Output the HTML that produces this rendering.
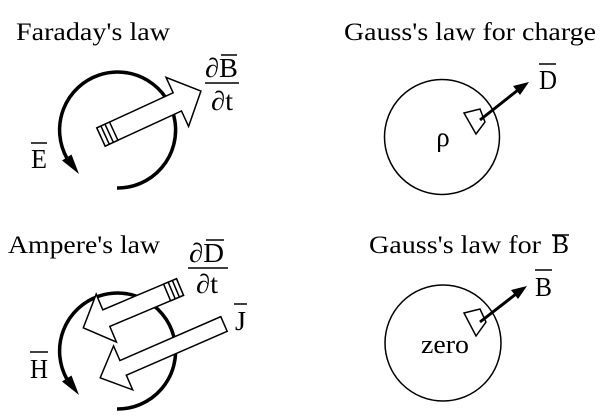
<!DOCTYPE html>
<html><head><style>
html,body{margin:0;padding:0;background:#fff;}
svg{display:block;}
text{font-family:"Liberation Serif","Times New Roman",serif;fill:#000;}
</style></head><body>
<svg width="606" height="416" viewBox="0 0 606 416" xmlns="http://www.w3.org/2000/svg">
<!-- Titles -->
<text x="16" y="40" font-size="25" textLength="154" lengthAdjust="spacingAndGlyphs">Faraday's law</text>
<text x="344" y="40" font-size="25" textLength="252" lengthAdjust="spacingAndGlyphs">Gauss's law for charge</text>
<text x="8" y="253" font-size="25" textLength="152" lengthAdjust="spacingAndGlyphs">Ampere's law</text>
<text x="369" y="253" font-size="25" textLength="172" lengthAdjust="spacingAndGlyphs">Gauss's law for</text>
<text x="552" y="253" font-size="26" textLength="17" lengthAdjust="spacingAndGlyphs">B</text>
<line x1="552" y1="235" x2="569" y2="235" stroke="#000" stroke-width="1.5"/>

<!-- Faraday circle arc -->
<path d="M117 188 A58 58 0 1 0 66.8 158" fill="none" stroke="#000" stroke-width="3.5"/>
<polygon points="79,174 71.5,154.5 62,160.5" fill="#000"/>
<g transform="translate(101,137) rotate(-24.7)" fill="#fff" stroke="#000" stroke-width="1.5">
  <polygon points="0,-10 84,-10 84,-27 110,0 84,27 84,10 0,10"/>
  <rect x="0" y="-10" width="14" height="20"/>
  <line x1="4.5" y1="-10" x2="4.5" y2="10"/>
  <line x1="9" y1="-10" x2="9" y2="10"/>
</g>
<text x="31" y="168" font-size="27" textLength="16" lengthAdjust="spacingAndGlyphs">E</text>
<line x1="31" y1="143" x2="47" y2="143" stroke="#000" stroke-width="1.5"/>
<text x="205" y="77" font-size="27" textLength="33" lengthAdjust="spacingAndGlyphs">∂B</text>
<line x1="221" y1="55" x2="237" y2="55" stroke="#000" stroke-width="1.5"/>
<line x1="205" y1="83" x2="239" y2="83" stroke="#000" stroke-width="1.5"/>
<text x="211" y="110" font-size="27" textLength="22" lengthAdjust="spacingAndGlyphs">∂t</text>

<!-- Ampere circle arc -->
<path d="M117 409 A58 58 0 1 0 66.8 379" fill="none" stroke="#000" stroke-width="3.5"/>
<polygon points="79,395 71.5,375.5 62,381.5" fill="#000"/>
<g transform="translate(180,287) rotate(157.1)" fill="#fff" stroke="#000" stroke-width="1.5">
  <polygon points="0,-9 80,-9 80,-26 105,0 80,26 80,9 0,9"/>
  <rect x="0" y="-9" width="14" height="18"/>
  <line x1="4.5" y1="-9" x2="4.5" y2="9"/>
  <line x1="9" y1="-9" x2="9" y2="9"/>
</g>
<g transform="translate(224,324) rotate(156.5)" fill="#fff" stroke="#000" stroke-width="1.5">
  <polygon points="0,-8 110,-8 110,-24 135,0 110,24 110,8 0,8"/>
</g>
<text x="30" y="378" font-size="27" textLength="18" lengthAdjust="spacingAndGlyphs">H</text>
<line x1="30" y1="352" x2="48" y2="352" stroke="#000" stroke-width="1.5"/>
<text x="189" y="262" font-size="27" textLength="35" lengthAdjust="spacingAndGlyphs">∂D</text>
<line x1="206" y1="240" x2="224" y2="240" stroke="#000" stroke-width="1.5"/>
<line x1="188" y1="268" x2="228" y2="268" stroke="#000" stroke-width="1.5"/>
<text x="196" y="293" font-size="27" textLength="22" lengthAdjust="spacingAndGlyphs">∂t</text>
<text x="235" y="330" font-size="27" textLength="11" lengthAdjust="spacingAndGlyphs">J</text>
<line x1="234" y1="304" x2="247" y2="304" stroke="#000" stroke-width="1.5"/>

<!-- Gauss charge -->
<circle cx="442" cy="137" r="57.5" fill="none" stroke="#000" stroke-width="1.5"/>
<polygon points="464,113 480,109 485,122 476,134" fill="#fff" stroke="#000" stroke-width="1.5"/>
<line x1="480" y1="120" x2="518" y2="90" stroke="#000" stroke-width="3"/>
<polygon points="529,82 513,86 520,95" fill="#000"/>
<text x="443" y="146" font-size="27" text-anchor="middle">ρ</text>
<text x="539" y="89" font-size="27" textLength="18" lengthAdjust="spacingAndGlyphs">D</text>
<line x1="539" y1="64" x2="556" y2="64" stroke="#000" stroke-width="1.5"/>

<!-- Gauss B -->
<circle cx="443" cy="343" r="58" fill="none" stroke="#000" stroke-width="1.5"/>
<polygon points="464,313 480,309 486,322 476,336" fill="#fff" stroke="#000" stroke-width="1.5"/>
<line x1="480" y1="322" x2="516" y2="294" stroke="#000" stroke-width="3"/>
<polygon points="527,286 511,290 518,299" fill="#000"/>
<text x="421" y="353" font-size="26" textLength="48" lengthAdjust="spacingAndGlyphs">zero</text>
<text x="535" y="296" font-size="27" textLength="17" lengthAdjust="spacingAndGlyphs">B</text>
<line x1="535" y1="270" x2="552" y2="270" stroke="#000" stroke-width="1.5"/>
</svg>
</body></html>
